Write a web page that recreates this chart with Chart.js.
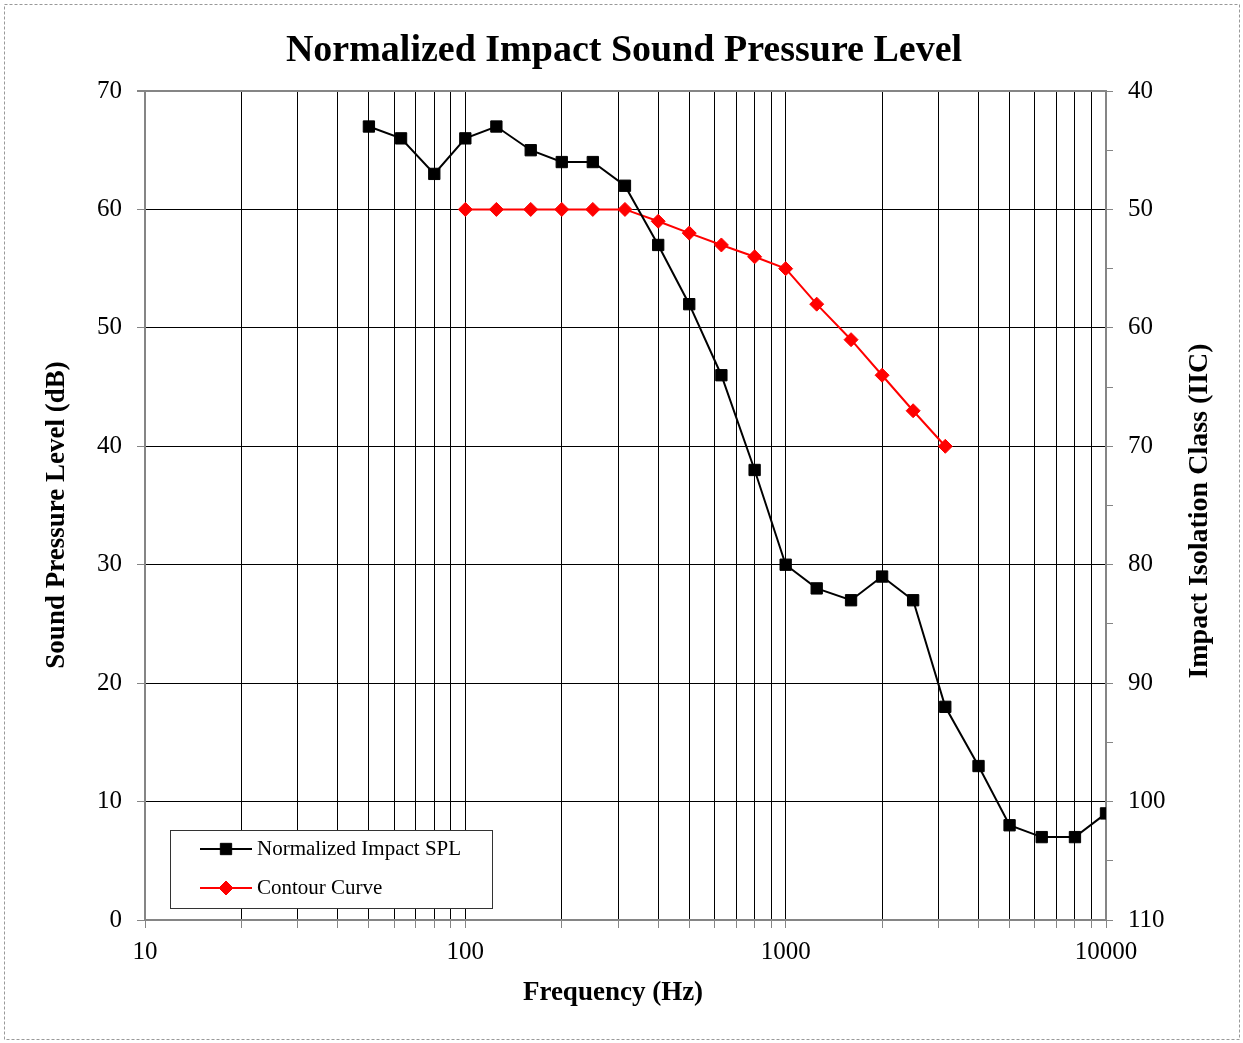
<!DOCTYPE html>
<html>
<head>
<meta charset="utf-8">
<title>Normalized Impact Sound Pressure Level</title>
<script src="https://cdn.jsdelivr.net/npm/chart.js@4/dist/chart.umd.min.js"></script>
<style>
  html, body { margin: 0; padding: 0; background: #fff; overflow: hidden; }
  #wrap { position: relative; width: 1243px; height: 1043px; }
</style>
</head>
<body>
<div id="wrap"><canvas id="chart-spl"></canvas></div>
<script>
'use strict';

// 1/3 octave band centre frequencies (Hz)
var splFreq = [50, 63, 80, 100, 125, 160, 200, 250, 315, 400, 500, 630, 800, 1000,
               1250, 1600, 2000, 2500, 3150, 4000, 5000, 6300, 8000, 10000];
var splValues = [67, 66, 63, 66, 67, 65, 64, 64, 62, 57, 52, 46, 38, 30,
                 28, 27, 29, 27, 18, 13, 8, 7, 7, 9];

var contourFreq = [100, 125, 160, 200, 250, 315, 400, 500, 630, 800, 1000,
                   1250, 1600, 2000, 2500, 3150];
var contourValues = [60, 60, 60, 60, 60, 60, 59, 58, 57, 56, 55, 52, 49, 46, 43, 40];

var xTicks = [10, 20, 30, 40, 50, 60, 70, 80, 90,
              100, 200, 300, 400, 500, 600, 700, 800, 900,
              1000, 2000, 3000, 4000, 5000, 6000, 7000, 8000, 9000, 10000];
var xLabels = [10, 100, 1000, 10000];

var SERIF = '"Liberation Serif", "Times New Roman", serif';
var GRAY = '#858585';

function toPoints(xs, ys) {
    return xs.map(function(x, i) { return { x: x, y: ys[i] }; });
}

function rotatedText(ctx, text, x, y) {
    ctx.save();
    ctx.translate(x, y);
    ctx.rotate(-Math.PI / 2);
    ctx.fillText(text, 0, 0);
    ctx.restore();
}

var extras = {
    id: 'extras',
    afterDraw: function(chart) {
        var ctx = chart.ctx;
        ctx.save();

        // chart and axis titles
        ctx.fillStyle = '#000';
        ctx.textAlign = 'center';
        ctx.textBaseline = 'middle';
        ctx.font = 'bold 38px ' + SERIF;
        ctx.fillText('Normalized Impact Sound Pressure Level', 624, 51);
        ctx.font = 'bold 27px ' + SERIF;
        ctx.fillText('Frequency (Hz)', 613, 993);
        rotatedText(ctx, 'Sound Pressure Level (dB)', 57, 515);
        ctx.font = 'bold 28px ' + SERIF;
        rotatedText(ctx, 'Impact Isolation Class (IIC)', 1200, 511);

        // legend box
        ctx.fillStyle = '#fff';
        ctx.fillRect(170, 830, 323, 79);
        ctx.strokeStyle = '#333';
        ctx.lineWidth = 1;
        ctx.strokeRect(170.5, 830.5, 322, 78);
        var rows = [849, 888];
        chart.data.datasets.forEach(function(ds, i) {
            var y = rows[i];
            ctx.strokeStyle = ds.borderColor;
            ctx.lineWidth = 2;
            ctx.beginPath();
            ctx.moveTo(200, y);
            ctx.lineTo(252, y);
            ctx.stroke();
            ctx.fillStyle = ds.pointBackgroundColor;
            ctx.strokeStyle = ds.pointBorderColor;
            ctx.lineWidth = 1;
            Chart.helpers.drawPoint(ctx, {
                pointStyle: ds.pointStyle, radius: ds.pointRadius, rotation: 0, borderWidth: 1
            }, 226, y);
            ctx.fillStyle = '#000';
            ctx.font = '21px ' + SERIF;
            ctx.textAlign = 'left';
            ctx.fillText(ds.label, 257, y);
        });

        // dashed outer frame
        ctx.strokeStyle = '#999';
        ctx.lineWidth = 1;
        ctx.setLineDash([3, 2]);
        ctx.strokeRect(4.5, 4.5, 1235, 1035);
        ctx.restore();
    }
};

new Chart(document.getElementById('chart-spl'), {
    type: 'line',
    data: {
        datasets: [{
            label: 'Normalized Impact SPL',
            data: toPoints(splFreq, splValues),
            borderColor: '#000',
            borderWidth: 2,
            pointStyle: 'rect',
            pointRadius: 8,
            pointBackgroundColor: '#000',
            pointBorderColor: '#000',
            pointBorderWidth: 1,
            tension: 0,
            yAxisID: 'y'
        }, {
            label: 'Contour Curve',
            data: toPoints(contourFreq, contourValues),
            borderColor: '#ff0000',
            borderWidth: 2,
            pointStyle: 'rectRot',
            pointRadius: 7,
            pointBackgroundColor: '#ff0000',
            pointBorderColor: '#ff0000',
            pointBorderWidth: 1,
            tension: 0,
            yAxisID: 'y'
        }]
    },
    options: {
        responsive: true,
        maintainAspectRatio: false,
        animation: false,
        layout: { padding: { top: 91, left: 0, right: 0, bottom: 0 } },
        plugins: {
            legend: { display: false },
            title: { display: false },
            tooltip: { enabled: false }
        },
        scales: {
            x: {
                type: 'logarithmic',
                position: 'bottom',
                min: 10,
                max: 10000,
                afterBuildTicks: function(scale) {
                    scale.ticks = xTicks.map(function(v) { return { value: v }; });
                },
                afterFit: function(scale) { scale.height = 123; },
                ticks: {
                    autoSkip: false,
                    maxRotation: 0,
                    padding: 9,
                    color: '#000',
                    font: { family: SERIF, size: 25 },
                    callback: function(v) { return xLabels.indexOf(v) >= 0 ? String(v) : ''; }
                },
                grid: {
                    color: function(c) {
                        var v = c.tick && c.tick.value;
                        return (v === 10 || v === 10000) ? GRAY : '#000';
                    },
                    lineWidth: 1,
                    tickLength: 8,
                    tickColor: GRAY
                },
                border: { color: GRAY, width: 2 }
            },
            y: {
                type: 'linear',
                position: 'left',
                min: 0,
                max: 70,
                afterFit: function(scale) { scale.width = 145; },
                ticks: {
                    stepSize: 10,
                    padding: 15,
                    color: '#000',
                    font: { family: SERIF, size: 25 }
                },
                grid: {
                    color: function(c) {
                        var v = c.tick && c.tick.value;
                        return (v === 0 || v === 70) ? GRAY : '#000';
                    },
                    lineWidth: function(c) {
                        var v = c.tick && c.tick.value;
                        return v === 70 ? 2 : 1;
                    },
                    tickLength: 8,
                    tickColor: GRAY
                },
                border: { color: GRAY, width: 2 }
            },
            y2: {
                type: 'linear',
                position: 'right',
                min: 40,
                max: 110,
                reverse: true,
                afterFit: function(scale) { scale.width = 137; },
                ticks: {
                    stepSize: 5,
                    autoSkip: false,
                    padding: 15,
                    color: '#000',
                    font: { family: SERIF, size: 25 },
                    callback: function(v) { return v % 10 === 0 ? String(v) : ''; }
                },
                grid: {
                    drawOnChartArea: false,
                    tickLength: 7,
                    tickColor: GRAY
                },
                border: { color: GRAY, width: 2 }
            }
        }
    },
    plugins: [extras]
});
</script>
</body>
</html>
